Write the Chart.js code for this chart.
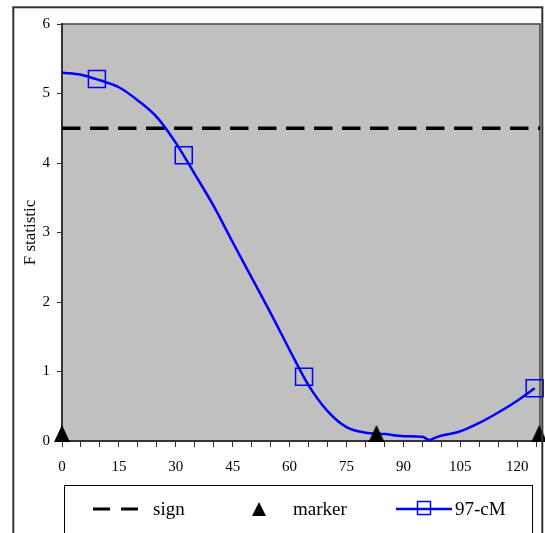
<!DOCTYPE html>
<html>
<head>
  <meta charset="utf-8">
  <title>F statistic</title>
  <script src="https://cdn.jsdelivr.net/npm/chart.js@4.4.0/dist/chart.umd.min.js"></script>
  <style>
    body { margin: 0; background: #ffffff; }
    canvas { display: block; }
  </style>
</head>
<body>
<canvas id="myChart" width="545" height="533"></canvas>
<script>
  // F statistic along the chromosome (cM)
  let posX = [0, 5, 10, 15, 20, 25, 30, 35, 40, 45, 50, 55, 60, 65, 70, 75, 80, 85, 90, 95, 96.8, 99, 105, 110, 115, 120, 124.6];
  let fStat = [5.30, 5.27, 5.19, 5.09, 4.90, 4.66, 4.29, 3.84, 3.38, 2.86, 2.35, 1.84, 1.31, 0.80, 0.43, 0.20, 0.12, 0.10, 0.07, 0.06, 0.015, 0.06, 0.14, 0.26, 0.41, 0.58, 0.76];

  // squares on the 97-cM curve
  let cmX = [9.2, 32.1, 63.8, 124.6];
  let cmY = [5.21, 4.11, 0.925, 0.76];

  // marker positions
  let markerX = [0, 82.9, 125.8];
  let markerY = [0, 0, 0];

  // significance threshold
  let signX = [0, 126];
  let signY = [4.5, 4.5];

  let xTicks = [0, 15, 30, 45, 60, 75, 90, 105, 120];

  let serif = "'Liberation Serif', 'Times New Roman', serif";

  function pts(xs, ys) {
    return xs.map((x, i) => ({ x: x, y: ys[i] }));
  }

  // filled triangle, base at "base"
  function triangleShape(ctx, cx, base, w, h) {
    ctx.beginPath();
    ctx.moveTo(cx, base - h);
    ctx.lineTo(cx + w / 2, base);
    ctx.lineTo(cx - w / 2, base);
    ctx.closePath();
    ctx.fill();
  }
  // marker image: the triangle sits just on top of the point
  let tri = document.createElement('canvas');
  tri.width = 16;
  tri.height = 36;
  let tctx = tri.getContext('2d');
  tctx.fillStyle = '#000000';
  triangleShape(tctx, 8, 19, 16, 17);

  let frame = {
    id: 'frame',
    beforeDraw(chart) {
      let c = chart.ctx, a = chart.chartArea;
      c.save();
      c.fillStyle = '#ffffff';
      c.fillRect(0, 0, chart.width, chart.height);
      c.fillStyle = '#c0c0c0';
      c.fillRect(a.left, a.top, a.right - a.left, a.bottom - a.top);
      c.strokeStyle = '#404040';
      c.lineWidth = 1.5;
      c.beginPath();
      c.moveTo(a.left, a.top);
      c.lineTo(a.right, a.top);
      c.lineTo(a.right, a.bottom);
      c.stroke();
      c.restore();
    },
    afterDraw(chart) {
      let c = chart.ctx;
      c.save();
      // outer border
      c.strokeStyle = '#333333';
      c.lineWidth = 2;
      c.strokeRect(13.3, 7.3, 529, 600);

      // legend box
      c.strokeStyle = '#000000';
      c.lineWidth = 1;
      c.strokeRect(64.5, 485.5, 468, 80);

      let y = 509;
      c.font = '19px ' + serif;
      c.fillStyle = '#000000';
      c.textBaseline = 'middle';

      c.lineWidth = 3;
      c.setLineDash([17, 11]);
      c.beginPath();
      c.moveTo(93, y);
      c.lineTo(139, y);
      c.stroke();
      c.setLineDash([]);
      c.fillText('sign', 153, y + 1);

      triangleShape(c, 259, y + 7, 14, 14);
      c.fillText('marker', 293, y + 1);

      c.strokeStyle = '#0000ff';
      c.lineWidth = 2.5;
      c.beginPath();
      c.moveTo(396, y);
      c.lineTo(452, y);
      c.stroke();
      c.lineWidth = 1.5;
      c.strokeRect(417.5, y - 7.5, 13, 13);
      c.fillText('97-cM', 455, y + 1);
      c.restore();
    }
  };

  var ctx = document.getElementById('myChart').getContext('2d');
  var myChart = new Chart(ctx, {
    type: 'scatter',
    data: {
      datasets: [
        {
          label: 'marker',
          data: pts(markerX, markerY),
          showLine: false,
          pointStyle: tri,
          pointRadius: 8,
          clip: false
        },
        {
          label: '97-cM points',
          data: pts(cmX, cmY),
          showLine: false,
          pointStyle: 'rect',
          pointRadius: 12,
          pointBorderWidth: 1.5,
          pointBorderColor: '#0000ff',
          pointBackgroundColor: 'rgba(0,0,0,0)',
          clip: false
        },
        {
          label: '97-cM',
          data: pts(posX, fStat),
          showLine: true,
          borderColor: '#0000ff',
          borderWidth: 2.5,
          cubicInterpolationMode: 'monotone',
          pointRadius: 0
        },
        {
          label: 'sign',
          data: pts(signX, signY),
          showLine: true,
          borderColor: '#000000',
          borderWidth: 3.5,
          borderDash: [18.5, 9.5],
          pointRadius: 0
        }
      ]
    },
    options: {
      responsive: false,
      animation: false,
      layout: { autoPadding: false, padding: { left: 0, top: 24, right: 5, bottom: 0 } },
      plugins: {
        legend: { display: false },
        tooltip: { enabled: false }
      },
      scales: {
        x: {
          type: 'linear',
          min: 0,
          max: 126,
          afterFit: (axis) => {
            axis.height = 92;
            axis.paddingLeft = 0;
            axis.paddingRight = 0;
          },
          border: { display: true, color: '#333333', width: 2 },
          grid: { drawOnChartArea: false, drawTicks: true, tickLength: 6, color: '#333333', lineWidth: 1 },
          ticks: {
            stepSize: 5,
            includeBounds: false,
            autoSkip: false,
            maxRotation: 0,
            padding: 11,
            color: '#000000',
            font: { family: serif, size: 15 },
            callback: (v) => xTicks.includes(v) ? String(v) : ''
          }
        },
        y: {
          min: 0,
          max: 6,
          afterFit: (axis) => { axis.width = 62; },
          border: { display: true, color: '#333333', width: 2 },
          grid: { drawOnChartArea: false, drawTicks: true, tickLength: 5, color: '#333333', lineWidth: 1 },
          ticks: {
            stepSize: 1,
            padding: 7,
            color: '#000000',
            font: { family: serif, size: 15 }
          },
          title: {
            display: true,
            text: 'F statistic',
            color: '#000000',
            font: { family: serif, size: 17 },
            padding: { top: 20, bottom: 0 }
          }
        }
      }
    },
    plugins: [frame]
  });
</script>
</body>
</html>
